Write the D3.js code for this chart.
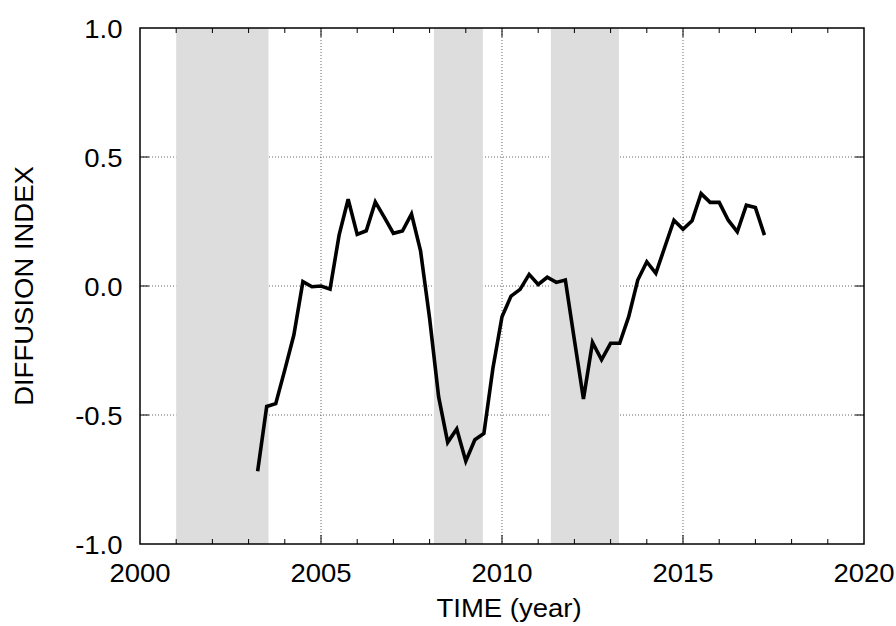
<!DOCTYPE html>
<html lang="en">
	<head>
		<meta charset="utf-8">
		<title>Diffusion index</title>
		<script src="https://cdn.jsdelivr.net/npm/d3@7"></script>
		<style type="text/css">
			body { margin: 0; background: #fff; }
			text { font-family: "Liberation Sans", Arial, sans-serif; fill: #000; }
		</style>
	</head>
	<body>
		<script type="text/javascript">

			// quarterly values
			var years = [2003.25, 2003.5, 2003.75, 2004.0, 2004.25, 2004.5, 2004.75, 2005.0,
						 2005.25, 2005.5, 2005.75, 2006.0, 2006.25, 2006.5, 2006.75, 2007.0,
						 2007.25, 2007.5, 2007.75, 2008.0, 2008.25, 2008.5, 2008.75, 2009.0,
						 2009.25, 2009.5, 2009.75, 2010.0, 2010.25, 2010.5, 2010.75, 2011.0,
						 2011.25, 2011.5, 2011.75, 2012.0, 2012.25, 2012.5, 2012.75, 2013.0,
						 2013.25, 2013.5, 2013.75, 2014.0, 2014.25, 2014.5, 2014.75, 2015.0,
						 2015.25, 2015.5, 2015.75, 2016.0, 2016.25, 2016.5, 2016.75, 2017.0,
						 2017.25];
			var index = [-0.718, -0.467, -0.456, -0.325, -0.19, 0.017, -0.003, 0.0,
						 -0.012, 0.197, 0.336, 0.2, 0.214, 0.326, 0.266, 0.204,
						 0.213, 0.279, 0.136, -0.125, -0.43, -0.606, -0.554, -0.679,
						 -0.596, -0.572, -0.318, -0.119, -0.039, -0.013, 0.045, 0.006,
						 0.034, 0.014, 0.023, -0.209, -0.438, -0.219, -0.286, -0.222,
						 -0.222, -0.119, 0.023, 0.094, 0.049, 0.152, 0.255, 0.22,
						 0.253, 0.358, 0.324, 0.324, 0.255, 0.21, 0.313, 0.304,
						 0.197];

			// shaded periods
			var shadeStart = [2001.0, 2008.12, 2011.35];
			var shadeEnd = [2003.55, 2009.47, 2013.23];

			var xTicks = [2000, 2005, 2010, 2015, 2020];
			var yTicks = [-1.0, -0.5, 0.0, 0.5, 1.0];

			var w = 896;
			var h = 626;
			var pL = 140, pR = 864, pT = 28, pB = 544;
			var fs = "25px", stretch = 1.1;

			var svg = d3.select("body")
						.append("svg")
						.attr("width", w)
						.attr("height", h);

			var x = d3.scaleLinear().domain([2000, 2020]).range([pL, pR]);
			var y = d3.scaleLinear().domain([-1, 1]).range([pB, pT]);

			// grid
			svg.selectAll("line.gx")
			   .data(xTicks.slice(1, -1))
			   .enter()
			   .append("line")
			   .attr("x1", function(d) { return x(d); })
			   .attr("x2", function(d) { return x(d); })
			   .attr("y1", pT)
			   .attr("y2", pB)
			   .attr("stroke", "#666")
			   .attr("stroke-width", 1)
			   .attr("stroke-dasharray", "1,2");

			svg.selectAll("line.gy")
			   .data(yTicks.slice(1, -1))
			   .enter()
			   .append("line")
			   .attr("x1", pL)
			   .attr("x2", pR)
			   .attr("y1", function(d) { return y(d); })
			   .attr("y2", function(d) { return y(d); })
			   .attr("stroke", "#666")
			   .attr("stroke-width", 1)
			   .attr("stroke-dasharray", "1,2");

			// shading
			svg.selectAll("rect.shade")
			   .data(shadeStart)
			   .enter()
			   .append("rect")
			   .attr("x", function(d) { return x(d); })
			   .attr("y", pT)
			   .attr("width", function(d, i) { return x(shadeEnd[i]) - x(d); })
			   .attr("height", pB - pT)
			   .attr("fill", "#dddddd");

			// ticks, inward on all four sides
			var minorX = d3.range(2001, 2020);
			var ticks = svg.append("g").attr("stroke", "#000").attr("stroke-width", 1);
			minorX.forEach(function(d) {
				var len = (d % 5 === 0) ? 9 : 5;
				ticks.append("line").attr("x1", x(d)).attr("x2", x(d)).attr("y1", pB).attr("y2", pB - len);
				ticks.append("line").attr("x1", x(d)).attr("x2", x(d)).attr("y1", pT).attr("y2", pT + len);
			});
			yTicks.slice(1, -1).forEach(function(d) {
				ticks.append("line").attr("x1", pL).attr("x2", pL + 9).attr("y1", y(d)).attr("y2", y(d));
				ticks.append("line").attr("x1", pR).attr("x2", pR - 9).attr("y1", y(d)).attr("y2", y(d));
			});

			// data line
			var line = d3.line()
						 .x(function(d, i) { return x(years[i]); })
						 .y(function(d) { return y(d); });

			svg.append("path")
			   .datum(index)
			   .attr("d", line)
			   .attr("fill", "none")
			   .attr("stroke", "#000")
			   .attr("stroke-width", 3.6)
			   .attr("stroke-linejoin", "miter");

			// frame
			svg.append("rect")
			   .attr("x", pL)
			   .attr("y", pT)
			   .attr("width", pR - pL)
			   .attr("height", pB - pT)
			   .attr("fill", "none")
			   .attr("stroke", "#000")
			   .attr("stroke-width", 1.5);

			// tick labels
			svg.selectAll("text.xt")
			   .data(xTicks)
			   .enter()
			   .append("text")
			   .text(function(d) { return d; })
			   .attr("text-anchor", "middle")
			   .attr("transform", function(d) { return "translate(" + x(d) + ",582) scale(" + stretch + ",1)"; })
			   .attr("font-size", fs);

			svg.selectAll("text.yt")
			   .data(yTicks)
			   .enter()
			   .append("text")
			   .text(function(d) { return d.toFixed(1); })
			   .attr("text-anchor", "end")
			   .attr("transform", function(d) { return "translate(122.5," + (y(d) + 9.5) + ") scale(" + stretch + ",1)"; })
			   .attr("font-size", fs);

			// axis titles
			svg.append("text")
			   .text("TIME (year)")
			   .attr("text-anchor", "middle")
			   .attr("transform", "translate(" + ((pL + pR) / 2 + 7) + ",617) scale(" + stretch + ",1)")
			   .attr("font-size", fs);

			svg.append("text")
			   .text("DIFFUSION INDEX")
			   .attr("text-anchor", "middle")
			   .attr("transform", "translate(33," + ((pT + pB) / 2) + ") rotate(-90) scale(" + stretch + ",1)")
			   .attr("font-size", fs);

		</script>
	</body>
</html>
